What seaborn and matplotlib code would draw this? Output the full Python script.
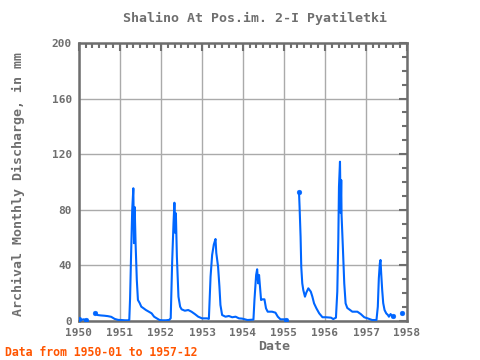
import numpy as np
import pandas as pd
import matplotlib
matplotlib.use('Agg')
import matplotlib.pyplot as plt
import matplotlib.dates as mdates
import seaborn as sns

# observation dates and discharge (mm); NaN marks gaps in the record
dates = [
    '1950-01-01', '1950-01-20', '1950-02-10', '1950-03-01', '1950-04-01',
    '1950-05-25', '1950-06-15', '1950-07-15', '1950-08-15', '1950-09-15', '1950-10-15', '1950-11-15', '1950-12-15',
    '1951-01-15', '1951-02-15', '1951-03-15', '1951-03-25', '1951-04-01', '1951-04-10', '1951-04-20', '1951-04-30',
    '1951-05-06', '1951-05-12', '1951-05-20', '1951-05-31', '1951-06-10', '1951-06-25', '1951-07-10', '1951-07-31',
    '1951-08-20', '1951-09-15', '1951-10-10', '1951-11-01', '1951-11-25', '1951-12-20',
    '1952-01-15', '1952-02-15', '1952-03-15', '1952-03-28', '1952-04-10', '1952-04-22', '1952-04-30',
    '1952-05-08', '1952-05-13', '1952-05-22', '1952-06-05', '1952-06-20', '1952-07-03', '1952-08-01',
    '1952-08-31', '1952-09-29', '1952-10-29', '1952-11-28',
    '1953-01-01', '1953-02-15', '1953-03-03', '1953-03-18', '1953-04-01', '1953-04-16', '1953-05-01',
    '1953-05-08', '1953-05-24', '1953-06-05', '1953-06-14', '1953-06-29', '1953-07-29', '1953-08-28',
    '1953-09-27', '1953-10-27', '1953-11-26', '1953-12-26',
    '1954-02-10', '1954-04-04', '1954-04-13', '1954-04-28', '1954-05-07', '1954-05-16', '1954-05-24',
    '1954-06-11', '1954-06-23', '1954-07-11', '1954-07-25', '1954-08-09', '1954-09-17', '1954-10-17',
    '1954-11-07', '1954-12-01',
    '1955-01-03', '1955-01-20', '1955-03-01',
    '1955-05-15', '1955-05-20', '1955-05-29', '1955-06-04', '1955-06-13', '1955-06-22', '1955-07-07',
    '1955-07-19', '1955-08-06', '1955-08-28', '1955-09-11', '1955-09-26', '1955-10-17', '1955-11-11', '1955-12-10',
    '1956-01-10', '1956-02-24', '1956-03-15', '1956-04-08', '1956-04-20', '1956-04-29', '1956-05-05',
    '1956-05-14', '1956-05-20', '1956-05-25', '1956-05-28', '1956-06-09', '1956-06-21', '1956-07-03',
    '1956-07-18', '1956-09-01', '1956-10-16', '1956-11-15', '1956-12-16',
    '1957-01-15', '1957-02-25', '1957-04-04', '1957-04-16', '1957-04-25', '1957-05-04', '1957-05-10',
    '1957-05-16', '1957-05-25', '1957-06-03', '1957-06-15', '1957-06-30', '1957-07-15', '1957-07-24',
    '1957-08-08', '1957-08-23', '1957-09-01', '1957-10-01',
    '1957-11-14',
]
discharge = [
    1.4, 0.8, 1.2, 0.8, np.nan,
    5.8, 4.3, 4.0, 3.8, 3.5, 3.0, 1.5, 0.8,
    0.7, 0.5, 0.5, 0.8, 16.3, 47.5, 79.9, 95.5,
    56.0, 82.0, 56.0, 29.5, 15.1, 13.0, 10.3, 9.1,
    7.9, 6.7, 5.5, 3.1, 1.9, 0.7,
    0.5, 0.5, 0.8, 2.0, 42.7, 70.5, 85.1,
    63.3, 77.5, 46.3, 17.5, 10.3, 8.4, 7.4,
    7.9, 6.7, 5.0, 3.1,
    1.9, 1.9, 1.5, 31.9, 47.5, 55.0, 59.0,
    49.0, 39.0, 24.7, 11.5, 4.3, 3.1, 3.6,
    2.7, 3.1, 1.9, 1.7,
    0.7, 1.0, 15.1, 33.1, 37.2, 27.1, 33.1,
    15.1, 15.6, 15.6, 9.1, 6.7, 6.7, 6.0,
    3.1, 1.2,
    1.2, 0.7, np.nan,
    92.6, 82.2, 60.6, 39.0, 27.1, 22.3, 17.5,
    20.4, 23.5, 21.1, 17.5, 12.7, 9.1, 5.5, 2.7,
    2.7, 2.4, 1.4, 2.4, 21.1, 58.3, 96.6,
    114.6, 77.7, 101.4, 76.3, 52.3, 27.1, 12.7,
    9.4, 6.7, 6.7, 5.0, 2.7,
    1.9, 0.7, 0.7, 10.3, 30.7, 41.5, 43.9,
    34.3, 22.3, 12.9, 7.9, 5.5, 4.3, 3.1,
    5.0, 3.1, 3.6, np.nan,
    5.5,
]
years = list(range(1950, 1959))
yticks = [0, 40, 80, 120, 160, 200]

df = pd.DataFrame({'date': pd.to_datetime(dates), 'q': discharge})
# split into continuous pieces so gaps stay open
df['seg'] = df['q'].isna().cumsum()
df = df.dropna().reset_index(drop=True)
prev_gap = df['seg'].ne(df['seg'].shift(1))
next_gap = df['seg'].ne(df['seg'].shift(-1))
ends = df[prev_gap | next_gap]

sns.set_style('white')
plt.rcParams['font.family'] = ['DejaVu Sans Mono', 'DejaVu Sans']
grey = '#6e6e6e'
blue = '#0066ff'

fig = plt.figure(figsize=(4.8, 3.6), dpi=100)
ax = fig.add_axes([79 / 480, 1 - 321 / 360, 328 / 480, 278 / 360])

sns.lineplot(data=df, x='date', y='q', units='seg', estimator=None,
             color=blue, linewidth=1.5, ax=ax, legend=False, zorder=3)
sns.scatterplot(data=ends, x='date', y='q', color=blue, s=12,
                edgecolor=blue, ax=ax, legend=False, zorder=4)

ax.set_xlim(pd.Timestamp('1950-01-01'), pd.Timestamp('1958-01-01'))
ax.set_ylim(0, 200)
ax.set_xticks([pd.Timestamp(f'{y}-01-01') for y in years])
ax.set_xticklabels([str(y) for y in years])
ax.xaxis.set_minor_locator(mdates.MonthLocator(bymonth=[3, 5, 7, 9, 11]))
ax.set_yticks(yticks)
ax.set_yticklabels([str(v) for v in yticks])
ax.set_yticks(range(0, 201, 10), minor=True)

ax.grid(True, which='major', color='#aaaaaa', linewidth=1.0)
ax.set_axisbelow(True)
for s in ax.spines.values():
    s.set_color(grey)
    s.set_linewidth(1.8)
ax.tick_params(which='both', direction='in', top=True, right=True, color=grey,
               labelsize=8, labelcolor=grey, width=1.5)
ax.tick_params(which='major', length=6, pad=5)
ax.tick_params(which='minor', length=3.5)
for lab in ax.get_xticklabels() + ax.get_yticklabels():
    lab.set_fontweight('bold')

ax.set_xlabel('')
ax.set_ylabel('')
fig.text(255 / 480, 1 - 18 / 360, 'Shalino At Pos.im. 2-I Pyatiletki', ha='center', va='center',
         fontsize=9.5, color=grey, fontweight='bold')
fig.text(18 / 480, 1 - 184 / 360, 'Archival Monthly Discharge, in mm', ha='center', va='center',
         rotation=90, fontsize=9.5, color=grey, fontweight='bold')
fig.text(274 / 480, 1 - 347 / 360, 'Date', ha='center', va='center',
         fontsize=9.5, color=grey, fontweight='bold')
fig.text(5 / 480, 1 - 352 / 360, 'Data from 1950-01 to 1957-12', ha='left', va='center',
         fontsize=8.3, color='#ff5500', fontweight='bold')

fig.savefig('out.png', dpi=100)
